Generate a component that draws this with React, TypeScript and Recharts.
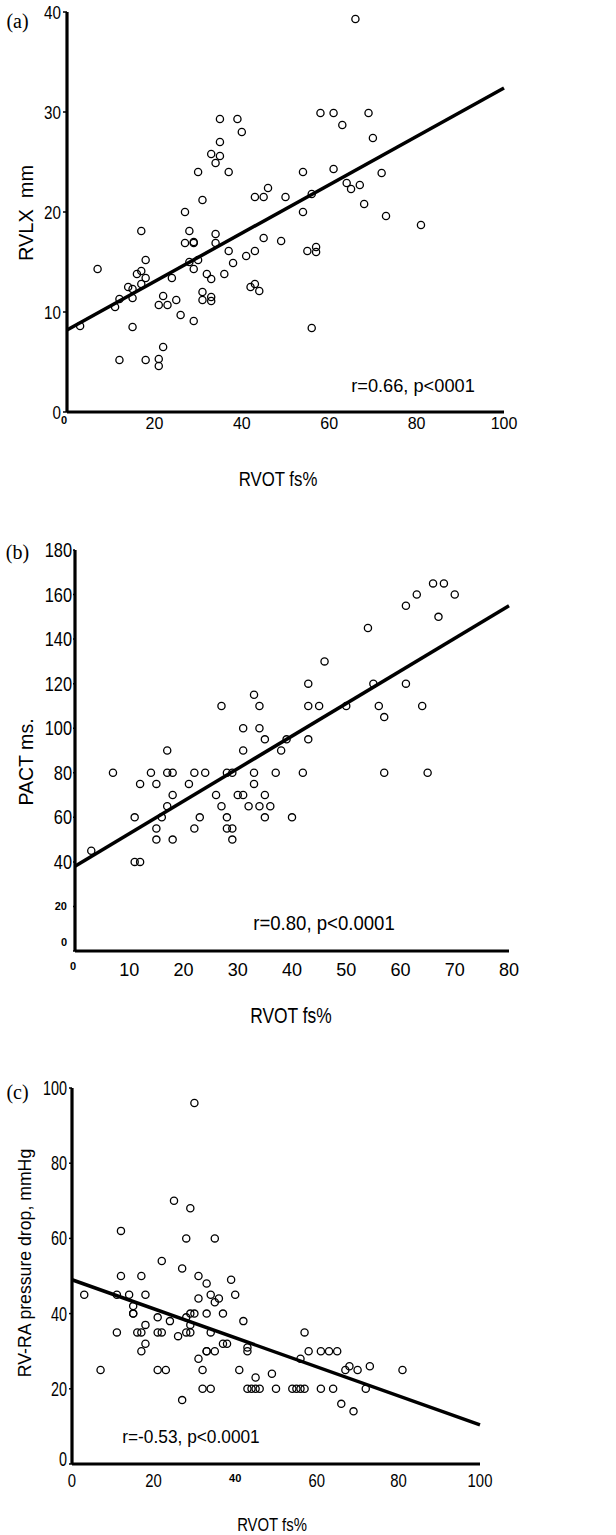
import { ReferenceLine, Scatter, ScatterChart, XAxis, YAxis } from 'recharts';

// (a) RVLX mm against RVOT fs%
const rvotA = [
  66, 58, 61, 69, 63, 35, 39, 40, 70, 35, 33, 35, 34, 30, 37, 54, 61, 72, 64, 65, 67, 46, 43, 45, 50,
  56, 31, 68, 27, 54, 73, 81, 7, 3, 17, 18, 16, 17, 18, 17, 14, 15, 15, 12, 11, 15, 12, 18, 21, 21,
  22, 21, 23, 22, 25, 26, 24, 27, 28, 29, 29, 28, 29, 30, 29, 32, 33, 31, 31, 33, 33, 34, 34, 36, 37,
  38, 41, 43, 43, 42, 44, 45, 49, 55, 57, 57, 56,
];
const rvlxA = [
  39.3, 29.9, 29.9, 29.9, 28.7, 29.3, 29.3, 28, 27.4, 27, 25.8, 25.6, 24.9, 24, 24, 24, 24.3, 23.9,
  22.9, 22.3, 22.7, 22.4, 21.5, 21.5, 21.5, 21.8, 21.2, 20.8, 20, 20, 19.6, 18.7, 14.3, 8.6, 18.1,
  15.2, 13.8, 14.1, 13.4, 12.8, 12.5, 12.3, 11.4, 11.3, 10.5, 8.5, 5.2, 5.2, 5.3, 4.6, 6.5, 10.7,
  10.7, 11.6, 11.2, 9.7, 13.4, 16.9, 18.1, 16.9, 17.0, 15, 14.3, 15.2, 9.1, 13.8, 13.3, 12, 11.2,
  11.5, 11.1, 17.8, 16.9, 13.8, 16.1, 14.9, 15.6, 16.1, 12.8, 12.5, 12.1, 17.4, 17.1, 16.1, 16.5,
  16, 8.4,
];
const fitA = [[0, 8.2], [100, 32.4]];

// (b) PACT ms against RVOT fs%
const rvotB = [
  66, 68, 63, 70, 61, 67, 54, 46, 43, 55, 61, 33, 27, 34, 43, 45, 50, 56, 64, 57, 31, 34, 35, 39, 43,
  17, 31, 38, 7, 14, 17, 18, 22, 24, 28, 29, 33, 37, 42, 57, 65, 12, 15, 21, 33, 18, 26, 30, 31, 35,
  17, 27, 32, 34, 36, 11, 16, 23, 28, 35, 40, 15, 22, 28, 29, 15, 18, 29, 11, 12, 3,
];
const pactB = [
  165, 165, 160, 160, 155, 150, 145, 130, 120, 120, 120, 115, 110, 110, 110, 110, 110, 110, 110, 105,
  100, 100, 95, 95, 95, 90, 90, 90, 80, 80, 80, 80, 80, 80, 80, 80, 80, 80, 80, 80, 80, 75, 75, 75,
  75, 70, 70, 70, 70, 70, 65, 65, 65, 65, 65, 60, 60, 60, 60, 60, 60, 55, 55, 55, 55, 50, 50, 50, 40,
  40, 45,
];
const fitB = [[0, 38], [80, 155]];

// (c) RV-RA pressure drop mmHg against RVOT fs%
const rvotC = [
  12, 28, 35, 22, 27, 12, 17, 31, 39, 33, 3, 11, 14, 18, 34, 40, 31, 36, 35, 15, 15, 15, 21, 28, 29,
  30, 33, 37, 24, 42, 29, 18, 11, 16, 17, 21, 22, 28, 29, 34, 57, 26, 18, 37, 38, 17, 33, 33, 35, 43,
  43, 58, 61, 63, 65, 31, 56, 21, 23, 32, 41, 7, 67, 68, 70, 73, 81, 45, 49, 32, 34, 43, 44, 45, 46,
  50, 54, 55, 56, 57, 61, 64, 72, 27, 66, 69, 30, 25, 29,
];
const dropC = [
  62, 60, 60, 54, 52, 50, 50, 50, 49, 48, 45, 45, 45, 45, 45, 45, 44, 44, 43, 42, 40, 40, 39, 39, 40,
  40, 40, 40, 38, 38, 37, 37, 35, 35, 35, 35, 35, 35, 35, 35, 35, 34, 32, 32, 32, 30, 30, 30, 30, 31,
  30, 30, 30, 30, 30, 28, 28, 25, 25, 25, 25, 25, 25, 26, 25, 26, 25, 23, 24, 20, 20, 20, 20, 20, 20,
  20, 20, 20, 20, 20, 20, 20, 20, 17, 16, 14, 96, 70, 68,
];
const fitC = [[0, 49], [100, 10.4]];

const xTicksA = [0, 20, 40, 60, 80, 100];
const yTicksA = [0, 10, 20, 30, 40];
const xTicksB = [0, 10, 20, 30, 40, 50, 60, 70, 80];
const yTicksB = [0, 20, 40, 60, 80, 100, 120, 140, 160, 180];
const xTicksC = [0, 20, 40, 60, 80, 100];
const yTicksC = [0, 20, 40, 60, 80, 100];

const sans = "'Liberation Sans', Arial, sans-serif";
const serif = "'Liberation Serif', 'Times New Roman', serif";

function toPoints(xs: number[], ys: number[]) {
  return xs.map((x, i) => ({ x, y: ys[i] }));
}

interface TickCfg {
  side: 'x' | 'y';
  size: number;
  scaleX: number;
  bold?: number[];
  shift?: Record<number, [number, number]>;
}

function makeTick(cfg: TickCfg) {
  return (props: any) => {
    const { x, y, payload } = props;
    const v = payload.value;
    const isBold = (cfg.bold ?? []).includes(v);
    const [dx, dy] = cfg.shift?.[v] ?? [0, 0];
    return (
      <g transform={`translate(${x + dx},${y + dy}) scale(${isBold ? 1 : cfg.scaleX},1)`}>
        <text
          x={0}
          y={0}
          dy={cfg.side === 'x' ? '0.71em' : '0.35em'}
          textAnchor={cfg.side === 'x' ? 'middle' : 'end'}
          fontSize={isBold ? 11 : cfg.size}
          fontWeight={isBold ? 'bold' : 'normal'}
          fontFamily={sans}
          fill="#000"
        >
          {v}
        </text>
      </g>
    );
  };
}

const dot = (p: any) => (
  <circle cx={p.cx} cy={p.cy} r={3.6} fill="none" stroke="#000" strokeWidth={1.3} />
);

interface TxtProps {
  x: number;
  y: number;
  size: number;
  scale?: number;
  rotate?: boolean;
  family?: string;
  children: string;
}

function Txt({ x, y, size, scale = 1, rotate, family = sans, children }: TxtProps) {
  return (
    <div
      style={{
        position: 'absolute',
        left: x,
        top: y,
        fontFamily: family,
        fontSize: size,
        lineHeight: 1,
        whiteSpace: 'pre',
        color: '#000',
        transform: `translate(-50%,-50%)${rotate ? ' rotate(-90deg)' : ''} scaleX(${scale})`,
      }}
    >
      {children}
    </div>
  );
}

const axisLine = { stroke: '#000', strokeWidth: 3.2 };
const tickLine = { stroke: '#000', strokeWidth: 1.5 };

export default function App() {
  return (
    <div style={{ position: 'absolute', left: 0, top: 0, width: 616, height: 1535, background: '#fff' }}>
      {/* (a) */}
      <div style={{ position: 'absolute', left: 0, top: 0 }}>
        <ScatterChart width={616} height={445} margin={{ top: 12, right: 112, bottom: 0, left: 0 }}>
          <XAxis
            dataKey="x"
            type="number"
            domain={[0, 100]}
            ticks={xTicksA}
            interval={0}
            height={33}
            axisLine={axisLine}
            tickLine={false}
            tickSize={2}
            tickMargin={4}
            tick={makeTick({ side: 'x', size: 16, scaleX: 1, bold: [0], shift: { 0: [-3, -2] } })}
          />
          <YAxis
            dataKey="y"
            type="number"
            domain={[0, 40]}
            ticks={yTicksA}
            interval={0}
            width={67}
            axisLine={axisLine}
            tickLine={tickLine}
            tickSize={4}
            tickMargin={2}
            tick={makeTick({ side: 'y', size: 19, scaleX: 0.8 })}
          />
          <Scatter data={toPoints(rvotA, rvlxA)} shape={dot} isAnimationActive={false} />
          <ReferenceLine
            segment={[{ x: fitA[0][0], y: fitA[0][1] }, { x: fitA[1][0], y: fitA[1][1] }]}
            stroke="#000"
            strokeWidth={3.5}
          />
        </ScatterChart>
      </div>
      <Txt x={17.5} y={21} size={20} family={serif}>(a)</Txt>
      <Txt x={25} y={213} size={21} scale={0.95} rotate>RVLX  mm</Txt>
      <Txt x={413} y={386} size={18.6} scale={0.98}>r=0.66, p&lt;0001</Txt>
      <Txt x={278} y={478} size={21} scale={0.8}>RVOT fs%</Txt>

      {/* (b) */}
      <div style={{ position: 'absolute', left: 0, top: 528 }}>
        <ScatterChart width={616} height={456} margin={{ top: 22, right: 107, bottom: 0, left: 0 }}>
          <XAxis
            dataKey="x"
            type="number"
            domain={[0, 80]}
            ticks={xTicksB}
            interval={0}
            height={33}
            axisLine={axisLine}
            tickLine={false}
            tickSize={4}
            tickMargin={7}
            tick={makeTick({ side: 'x', size: 19, scaleX: 0.95, bold: [0], shift: { 0: [-2, 0] } })}
          />
          <YAxis
            dataKey="y"
            type="number"
            domain={[0, 180]}
            ticks={yTicksB}
            interval={0}
            width={75}
            axisLine={axisLine}
            tickLine={tickLine}
            tickSize={2}
            tickMargin={1}
            tick={makeTick({
              side: 'y',
              size: 20,
              scaleX: 0.82,
              bold: [0, 20],
              shift: { 0: [-5, -9], 20: [-5, 0] },
            })}
          />
          <Scatter data={toPoints(rvotB, pactB)} shape={dot} isAnimationActive={false} />
          <ReferenceLine
            segment={[{ x: fitB[0][0], y: fitB[0][1] }, { x: fitB[1][0], y: fitB[1][1] }]}
            stroke="#000"
            strokeWidth={3.5}
          />
        </ScatterChart>
      </div>
      <Txt x={17.5} y={552} size={20} family={serif}>(b)</Txt>
      <Txt x={25} y={762} size={21} scale={0.93} rotate>PACT ms.</Txt>
      <Txt x={324} y={922} size={21} scale={0.885}>r=0.80, p&lt;0.0001</Txt>
      <Txt x={291} y={1016} size={22} scale={0.79}>RVOT fs%</Txt>

      {/* (c) */}
      <div style={{ position: 'absolute', left: 0, top: 1070 }}>
        <ScatterChart width={616} height={427} margin={{ top: 18, right: 136, bottom: 0, left: 0 }}>
          <XAxis
            dataKey="x"
            type="number"
            domain={[0, 100]}
            ticks={xTicksC}
            interval={0}
            height={33}
            axisLine={axisLine}
            tickLine={false}
            tickSize={4}
            tickMargin={6}
            tick={makeTick({ side: 'x', size: 18.6, scaleX: 0.8, bold: [40], shift: { 40: [0, 0] } })}
          />
          <YAxis
            dataKey="y"
            type="number"
            domain={[0, 100]}
            ticks={yTicksC}
            interval={0}
            width={72}
            axisLine={axisLine}
            tickLine={tickLine}
            tickSize={3}
            tickMargin={2}
            tick={makeTick({ side: 'y', size: 20, scaleX: 0.72, shift: { 0: [0, -5] } })}
          />
          <Scatter data={toPoints(rvotC, dropC)} shape={dot} isAnimationActive={false} />
          <ReferenceLine
            segment={[{ x: fitC[0][0], y: fitC[0][1] }, { x: fitC[1][0], y: fitC[1][1] }]}
            stroke="#000"
            strokeWidth={3.5}
          />
        </ScatterChart>
      </div>
      <Txt x={17.5} y={1092} size={20} family={serif}>(c)</Txt>
      <Txt x={25} y={1263} size={18.6} scale={0.95} rotate>RV-RA pressure drop, mmHg</Txt>
      <Txt x={191} y={1437} size={18.6} scale={0.93}>r=-0.53, p&lt;0.0001</Txt>
      <Txt x={272} y={1525} size={18.6} scale={0.8}>RVOT fs%</Txt>
    </div>
  );
}
